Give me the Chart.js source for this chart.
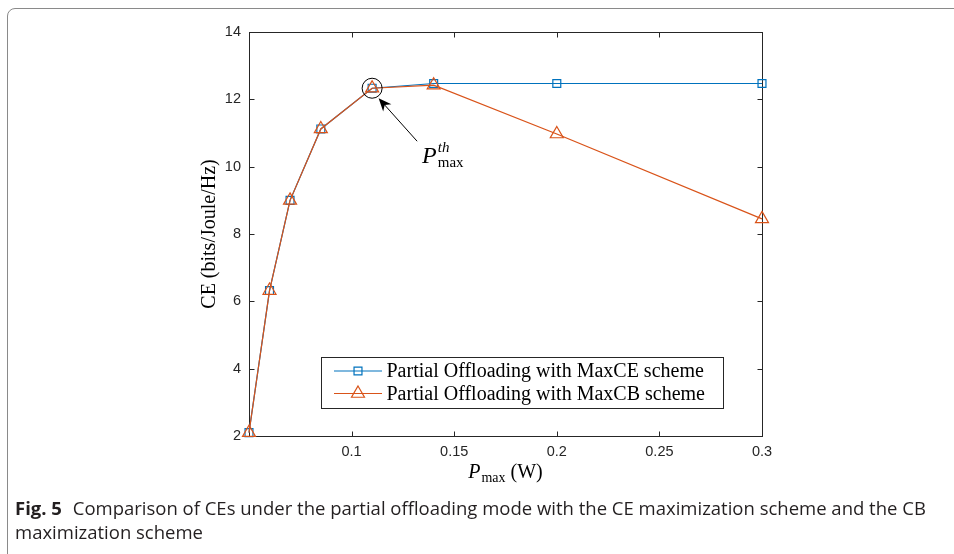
<!DOCTYPE html>
<html>
<head>
<meta charset="utf-8">
<script src="https://cdn.jsdelivr.net/npm/chart.js@4/dist/chart.umd.min.js"></script>
<style>
  body { margin: 0; background: #fff; width: 954px; height: 554px; overflow: hidden; position: relative; }
  #frame { position: absolute; left: 7px; top: 8px; width: 1000px; height: 600px; border: 1.5px solid #8a8a8a; border-radius: 8px; }
  #chart { position: absolute; left: 0; top: 0; }
  #caption { position: absolute; left: 15px; top: 496px; white-space: nowrap; font-family: "Open Sans", sans-serif; font-size: 18.5px; line-height: 24px; color: #231f20; }
  #caption b { margin-right: 6px; }
</style>
</head>
<body>
<div id="frame"></div>
<canvas id="chart" width="954" height="554"></canvas>
<div id="caption"><b>Fig. 5</b> Comparison of CEs under the partial offloading mode with the CE maximization scheme and the CB<br>maximization scheme</div>
<script>
// data
const powerValues = [0.05, 0.06, 0.07, 0.085, 0.11, 0.14, 0.2, 0.3];
const maxCEValues = [2.1, 6.32, 9.0, 11.12, 12.33, 12.47, 12.47, 12.47];
const maxCBValues = [2.1, 6.32, 9.0, 11.12, 12.33, 12.42, 10.97, 8.45];
const xTickValues = [0.1, 0.15, 0.2, 0.25, 0.3];
const yTickValues = [2, 4, 6, 8, 10, 12, 14];
const seriesNames = ['Partial Offloading with MaxCE scheme', 'Partial Offloading with MaxCB scheme'];
const thresholdIndex = 4; // the circled point (P_max^th)

const blue = 'rgb(0,114,189)';
const orange = 'rgb(217,83,25)';
const axisColor = '#262626';
const serif = '"Liberation Serif", "Times New Roman", serif';
const sans = '"Liberation Sans", Arial, sans-serif';

function toPoints(ys) {
  return powerValues.map((x, i) => ({ x: x, y: ys[i] }));
}

// marker shapes same as Chart.js pointStyle, used for the legend
function marker(ctx, style, x, y, r) {
  ctx.beginPath();
  if (style == 'rect') {
    const s = Math.SQRT1_2 * r;
    ctx.rect(x - s, y - s, 2 * s, 2 * s);
  } else {
    ctx.moveTo(x, y - r);
    ctx.lineTo(x + 0.866 * r, y + 0.5 * r);
    ctx.lineTo(x - 0.866 * r, y + 0.5 * r);
    ctx.closePath();
  }
  ctx.stroke();
}

// box, inward ticks, titles, annotation and legend (MATLAB look)
const matlabLook = {
  id: 'matlabLook',
  beforeDatasetsDraw(chart) {
    const ctx = chart.ctx;
    const a = chart.chartArea;
    const xs = chart.scales.x, ys = chart.scales.y;
    const L = Math.round(a.left) + 0.5, R = Math.round(a.right) + 0.5;
    const T = Math.round(a.top) + 0.5, B = Math.round(a.bottom) + 0.5;
    const tl = 5;
    ctx.save();
    ctx.strokeStyle = axisColor;
    ctx.lineWidth = 1;
    ctx.strokeRect(L, T, R - L, B - T);
    ctx.beginPath();
    xTickValues.forEach(v => {
      const px = Math.round(xs.getPixelForValue(v)) + 0.5;
      ctx.moveTo(px, B); ctx.lineTo(px, B - tl);
      ctx.moveTo(px, T); ctx.lineTo(px, T + tl);
    });
    yTickValues.forEach(v => {
      const py = Math.round(ys.getPixelForValue(v)) + 0.5;
      ctx.moveTo(L, py); ctx.lineTo(L + tl, py);
      ctx.moveTo(R, py); ctx.lineTo(R - tl, py);
    });
    ctx.stroke();
    ctx.restore();
  },
  afterDraw(chart) {
    const ctx = chart.ctx;
    const a = chart.chartArea;
    const xs = chart.scales.x, ys = chart.scales.y;
    ctx.save();
    ctx.fillStyle = '#000';
    ctx.textBaseline = 'alphabetic';

    // y title
    ctx.save();
    ctx.translate(a.left - 39, (a.top + a.bottom) / 2);
    ctx.rotate(-Math.PI / 2);
    ctx.font = '20px ' + serif;
    ctx.textAlign = 'center';
    ctx.textBaseline = 'middle';
    ctx.fillText('CE (bits/Joule/Hz)', 0, 0);
    ctx.restore();

    // x title: P_max (W)
    ctx.textAlign = 'left';
    const big = '20px ' + serif, itBig = 'italic 20px ' + serif, small = '14px ' + serif;
    ctx.font = itBig; const wP = ctx.measureText('P').width;
    ctx.font = small; const wM = ctx.measureText('max').width;
    ctx.font = big; const wW = ctx.measureText(' (W)').width;
    let x0 = (a.left + a.right) / 2 - (wP + 1 + wM + wW) / 2;
    const by = a.bottom + 42;
    ctx.font = itBig; ctx.fillText('P', x0, by);
    ctx.font = small; ctx.fillText('max', x0 + wP + 1, by + 4);
    ctx.font = big; ctx.fillText(' (W)', x0 + wP + 1 + wM, by);

    // circle + arrow + label at the threshold point
    const cx = xs.getPixelForValue(powerValues[thresholdIndex]);
    const cy = ys.getPixelForValue(maxCBValues[thresholdIndex]);
    ctx.strokeStyle = '#000';
    ctx.lineWidth = 1;
    ctx.beginPath();
    ctx.arc(cx, cy, 10, 0, Math.PI * 2);
    ctx.stroke();
    const tip = { x: cx + 6.5, y: cy + 10 };
    const tail = { x: cx + 45, y: cy + 53 };
    const ang = Math.atan2(tip.y - tail.y, tip.x - tail.x);
    const hl = 13, hw = 5.5;
    const back = { x: tip.x - Math.cos(ang) * hl, y: tip.y - Math.sin(ang) * hl };
    const notch = { x: tip.x - Math.cos(ang) * hl * 0.7, y: tip.y - Math.sin(ang) * hl * 0.7 };
    ctx.beginPath();
    ctx.moveTo(tail.x, tail.y);
    ctx.lineTo(notch.x, notch.y);
    ctx.stroke();
    ctx.beginPath();
    ctx.moveTo(tip.x, tip.y);
    ctx.lineTo(back.x - Math.sin(ang) * hw, back.y + Math.cos(ang) * hw);
    ctx.lineTo(notch.x, notch.y);
    ctx.lineTo(back.x + Math.sin(ang) * hw, back.y - Math.cos(ang) * hw);
    ctx.closePath();
    ctx.fill();

    const lx = tail.x + 5, ly = tail.y + 22;
    ctx.font = 'italic 24px ' + serif;
    ctx.fillText('P', lx, ly);
    const pw = ctx.measureText('P').width;
    ctx.font = 'italic 15px ' + serif;
    ctx.fillText('th', lx + pw + 1, ly - 11);
    ctx.font = '15px ' + serif;
    ctx.fillText('max', lx + pw + 1, ly + 4);

    // legend
    const lb = { left: a.left + 72.5, top: a.bottom - 78.5, right: a.left + 474.5, bottom: a.bottom - 27.5 };
    ctx.fillStyle = '#fff';
    ctx.fillRect(lb.left, lb.top, lb.right - lb.left, lb.bottom - lb.top);
    ctx.strokeStyle = axisColor;
    ctx.strokeRect(lb.left, lb.top, lb.right - lb.left, lb.bottom - lb.top);
    ctx.font = '20px ' + serif;
    ctx.textBaseline = 'middle';
    chart.data.datasets.forEach((ds, i) => {
      const ry = lb.top + 13.5 + i * 22.5;
      ctx.strokeStyle = ds.borderColor;
      ctx.lineWidth = ds.borderWidth;
      ctx.beginPath();
      ctx.moveTo(lb.left + 12.5, ry);
      ctx.lineTo(lb.left + 60.5, ry);
      ctx.stroke();
      ctx.lineWidth = ds.pointBorderWidth;
      marker(ctx, ds.pointStyle, lb.left + 36.5, ry, ds.pointRadius);
      ctx.fillStyle = '#000';
      ctx.fillText(ds.label, lb.left + 65, ry + 1);
    });
    ctx.restore();
  }
};

const chart = new Chart(document.getElementById('chart'), {
  type: 'line',
  data: {
    datasets: [
      {
        label: seriesNames[0],
        data: toPoints(maxCEValues),
        borderColor: blue,
        borderWidth: 1.2,
        pointStyle: 'rect',
        pointRadius: 5.6,
        pointBorderWidth: 1.2,
        pointBackgroundColor: 'rgba(0,0,0,0)',
        pointBorderColor: blue,
        order: 2,
        clip: false
      },
      {
        label: seriesNames[1],
        data: toPoints(maxCBValues),
        borderColor: orange,
        borderWidth: 1.2,
        pointStyle: 'triangle',
        pointRadius: 7.5,
        pointBorderWidth: 1.2,
        pointBackgroundColor: 'rgba(0,0,0,0)',
        pointBorderColor: orange,
        order: 1,
        clip: false
      }
    ]
  },
  options: {
    responsive: false,
    animation: false,
    layout: { padding: { left: 209, right: 192, top: 32, bottom: 68 } },
    plugins: { legend: { display: false }, tooltip: { enabled: false } },
    elements: { line: { tension: 0 } },
    scales: {
      x: {
        type: 'linear',
        min: 0.05,
        max: 0.3,
        grid: { display: false, drawTicks: false },
        border: { display: false },
        afterBuildTicks: s => { s.ticks = xTickValues.map(v => ({ value: v })); },
        afterFit: s => { s.height = 50; },
        ticks: { color: axisColor, padding: 7, maxRotation: 0, font: { family: sans, size: 14.5 }, callback: v => String(v) }
      },
      y: {
        type: 'linear',
        min: 2,
        max: 14,
        grid: { display: false, drawTicks: false },
        border: { display: false },
        afterBuildTicks: s => { s.ticks = yTickValues.map(v => ({ value: v })); },
        afterFit: s => { s.width = 40; },
        ticks: { color: axisColor, padding: 8, font: { family: sans, size: 14.5 }, callback: v => String(v) }
      }
    }
  },
  plugins: [matlabLook]
});
</script>
</body>
</html>
